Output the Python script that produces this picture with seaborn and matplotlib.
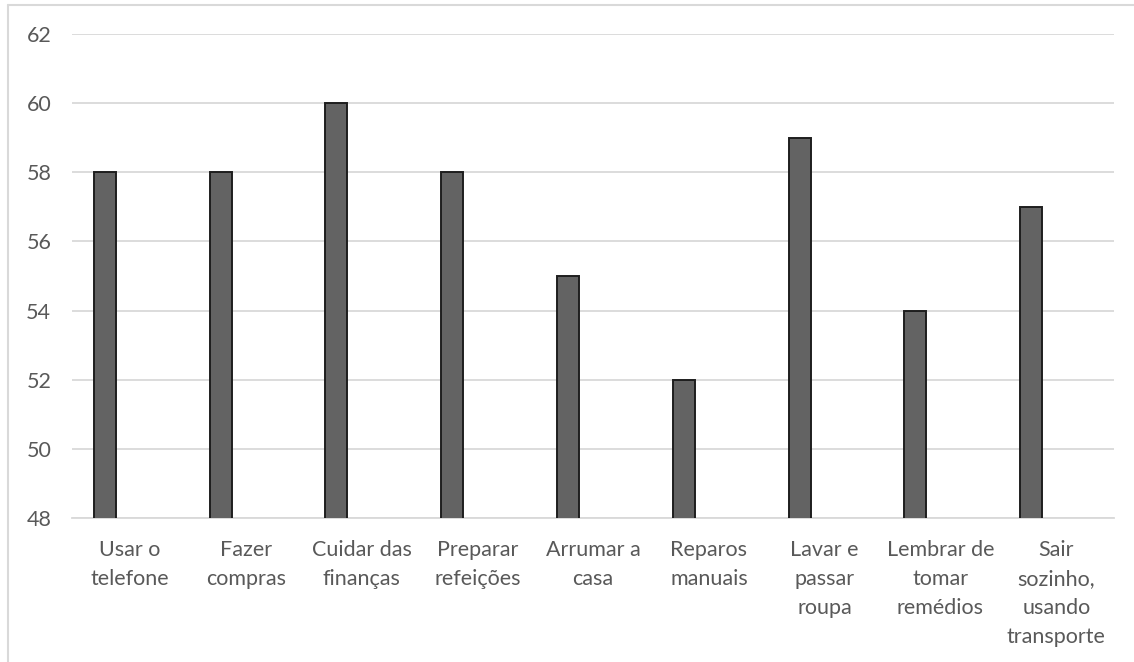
import pandas as pd
import seaborn as sns
import matplotlib.pyplot as plt
from matplotlib.lines import Line2D

# data
atividades = ["Usar o\ntelefone", "Fazer\ncompras", "Cuidar das\nfinanças",
              "Preparar\nrefeições", "Arrumar a\ncasa", "Reparos\nmanuais",
              "Lavar e\npassar\nroupa", "Lembrar de\ntomar\nremédios",
              "Sair\nsozinho,\nusando\ntransporte"]
valores = [58, 58, 60, 58, 55, 52, 59, 54, 57]
y_ticks = [48, 50, 52, 54, 56, 58, 60, 62]

df = pd.DataFrame({"atividade": atividades, "valor": valores})

sns.set_style("white")
plt.rcParams["font.family"] = ["Lato", "DejaVu Sans"]
text_col = "#595959"
grid_col = "#d9d9d9"

fig = plt.figure(figsize=(11.34, 6.62), dpi=100)
ax = fig.add_axes([0.0635, 0.2175, 0.919, 0.7311])

sns.barplot(data=df, x="atividade", y="valor", color="#636363", width=0.19,
            edgecolor="#1e1e1e", linewidth=1.4, saturation=1, ax=ax, zorder=3)
# bars sit left of the category centre, like the original
for p in ax.patches:
    p.set_x(p.get_x() - 0.216)

ax.set_ylim(48, 62)
ax.set_yticks(y_ticks)
ax.set_xlim(-0.5, len(atividades) - 0.5)
ax.yaxis.grid(True, color=grid_col, linewidth=1.3, zorder=0)
ax.set_axisbelow(True)
for s in ["left", "right", "top"]:
    ax.spines[s].set_visible(False)
ax.spines["bottom"].set_color(grid_col)
ax.spines["bottom"].set_linewidth(1.3)

ax.set_xlabel("")
ax.set_ylabel("")
ax.tick_params(axis="y", length=0, pad=15, labelsize=15.5, labelcolor=text_col)
ax.tick_params(axis="x", length=0, pad=16, labelsize=15.5, labelcolor=text_col)
for lbl in ax.get_xticklabels():
    lbl.set_linespacing(1.55)
    lbl.set_ha("center")

# light frame around the chart area
fig.add_artist(Line2D([8 / 1134, 1.0], [1 - 5 / 662] * 2, color=grid_col, lw=1.5))
fig.add_artist(Line2D([8 / 1134] * 2, [0.0, 1 - 5 / 662], color=grid_col, lw=1.5))

plt.savefig("out.png", dpi=100)
